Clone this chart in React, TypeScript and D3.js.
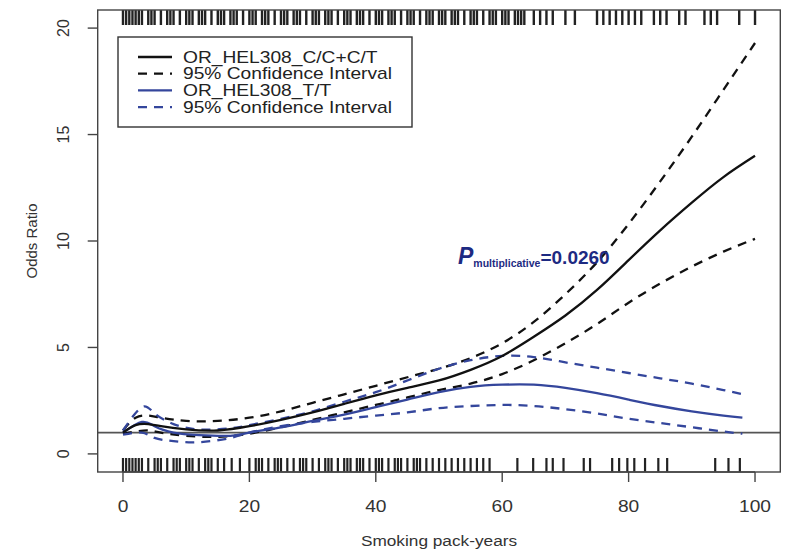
import React from 'react';
import * as d3 from 'd3';

// pack-years grid and fitted odds ratios
const xsBlack = [0, 2, 4, 6, 10, 15, 20, 25, 30, 35, 40, 45, 50, 55, 60, 65, 70, 75, 80, 85, 90, 95, 100];
const orBlack = [1.0, 1.35, 1.4, 1.3, 1.15, 1.1, 1.3, 1.6, 1.95, 2.35, 2.75, 3.1, 3.45, 3.95, 4.6, 5.5, 6.5, 7.7, 9.1, 10.5, 11.8, 13.0, 14.0];
const upBlack = [1.1, 1.7, 1.8, 1.7, 1.55, 1.55, 1.7, 2.0, 2.4, 2.8, 3.2, 3.6, 4.0, 4.5, 5.2, 6.2, 7.5, 9.0, 10.8, 12.8, 14.9, 17.1, 19.3];
const loBlack = [0.95, 1.05, 1.1, 1.0, 0.85, 0.8, 0.95, 1.25, 1.6, 1.95, 2.3, 2.65, 3.0, 3.3, 3.75, 4.4, 5.2, 6.1, 7.1, 8.0, 8.8, 9.5, 10.1];

const xsBlue = [0, 3, 5, 8, 12, 17, 20, 25, 30, 35, 40, 45, 50, 55, 60, 65, 70, 75, 80, 85, 90, 95, 98];
const orBlue = [1.0, 1.5, 1.3, 1.0, 0.88, 0.85, 1.0, 1.25, 1.55, 1.85, 2.2, 2.55, 2.9, 3.15, 3.25, 3.25, 3.1, 2.85, 2.55, 2.25, 2.0, 1.8, 1.7];
const upBlue = [1.1, 2.2, 1.9, 1.4, 1.15, 1.2, 1.35, 1.65, 2.0, 2.45, 2.9, 3.45, 4.0, 4.4, 4.6, 4.55, 4.3, 4.05, 3.8, 3.55, 3.3, 3.0, 2.8];
const loBlue = [0.9, 1.0, 0.75, 0.6, 0.55, 0.75, 1.0, 1.3, 1.5, 1.65, 1.8, 1.95, 2.15, 2.25, 2.3, 2.25, 2.1, 1.9, 1.65, 1.45, 1.25, 1.05, 0.95];

// rug marks (observed pack-years)
const rugTop = [0, 0.5, 1, 1.5, 2, 2.5, 3, 4, 4.5, 5, 6, 7, 7.5, 8, 9, 10, 10.5, 11, 12, 12.5, 13, 14, 15, 15.5, 16, 17, 17.5,
  18, 19, 20, 20.5, 21, 22, 22.5, 23, 24, 25, 25.5, 26, 27, 27.5, 28, 29, 30, 30.5, 31, 32, 32.5, 33, 34, 35, 35.5, 36, 37,
  37.5, 38, 39, 40, 40.5, 41, 42, 42.5, 43, 44, 45, 45.5, 46, 47, 48, 48.5, 49, 50, 50.5, 51, 52, 52.5, 53, 54, 55, 55.5,
  56, 57, 58, 58.5, 59, 60, 60.5, 61, 62, 62.5, 63, 63.5,
  65, 66, 67, 68, 70, 71.5, 75, 76, 77, 78, 79, 80, 81, 82, 84, 85, 86, 88, 89, 92, 93, 94, 97.5, 100];
const rugBottom = [0, 0.5, 1, 1.5, 2, 2.5, 3, 4, 5, 5.5, 6, 7, 8, 8.5, 9, 10, 10.5, 11, 12, 13, 13.5, 14, 15, 16, 17.2, 18.5,
  20, 21, 21.5, 22, 23, 24, 24.5, 25, 26, 27, 28, 28.5, 29, 30, 31, 32, 32.5, 33, 34, 35, 35.5, 36, 37, 37.5, 38, 39, 40,
  40.5, 41, 42, 43, 43.5, 44, 45, 46, 46.5, 47, 48, 49, 50, 51, 52, 53, 54, 55, 56, 57, 58,
  62.4, 64.9, 67, 68, 69.7, 72.9, 73.9, 77.4, 78.5, 79.8, 80.9, 82.6, 84.7, 86.1, 93.7, 95.8, 97.6];

const xTicks = [0, 20, 40, 60, 80, 100];
const yTicks = [0, 5, 10, 15, 20];

const legendItems = [
  { label: 'OR_HEL308_C/C+C/T', color: '#111', dash: null },
  { label: '95% Confidence Interval', color: '#111', dash: '9,7' },
  { label: 'OR_HEL308_T/T', color: '#34469c', dash: null },
  { label: '95% Confidence Interval', color: '#34469c', dash: '9,7' },
];

const W = 792;
const H = 556;
const left = 97.7, right = 780.3, top = 10, bottom = 472;
const font = '"Liberation Sans", Arial, sans-serif';
const axisColor = '#444';
const navy = '#1d2a82';
const textColor = '#333';

export default function App() {
  const x = d3.scaleLinear().domain([-4, 104]).range([left, right]);
  const y = d3.scaleLinear().domain([-0.85, 20.85]).range([bottom, top]);

  const path = (xs: number[], ys: number[]) =>
    d3.line<number>()
      .x((_, i) => x(xs[i]))
      .y(d => y(d))
      .curve(d3.curveNatural)(ys) || '';

  const blue = '#34469c';
  const curves = [
    { d: path(xsBlack, upBlack), color: '#111', dash: '9,7' },
    { d: path(xsBlack, loBlack), color: '#111', dash: '9,7' },
    { d: path(xsBlue, upBlue), color: blue, dash: '9,7' },
    { d: path(xsBlue, loBlue), color: blue, dash: '9,7' },
    { d: path(xsBlue, orBlue), color: blue, dash: null },
    { d: path(xsBlack, orBlack), color: '#111', dash: null },
  ];

  const legX = 118, legY = 37, legW = 294, legH = 90;

  return (
    <svg width={W} height={H} style={{ position: 'absolute', left: 0, top: 0, background: '#fff' }}>
      <rect x={0} y={0} width={W} height={H} fill="#fff" />

      {/* rugs */}
      {rugTop.map((v, i) => (
        <line key={'t' + i} x1={x(v)} x2={x(v)} y1={top} y2={top + 15} stroke="#222" strokeWidth={2.4} />
      ))}
      {rugBottom.map((v, i) => (
        <line key={'b' + i} x1={x(v)} x2={x(v)} y1={bottom - 14} y2={bottom} stroke="#222" strokeWidth={2.2} />
      ))}

      {/* reference line at OR = 1 */}
      <line x1={left} x2={right} y1={y(1)} y2={y(1)} stroke="#555" strokeWidth={1.6} />

      {curves.map((c, i) => (
        <path key={i} d={c.d} fill="none" stroke={c.color} strokeWidth={2.3}
          strokeDasharray={c.dash || undefined} />
      ))}

      {/* plot box */}
      <rect x={left} y={top} width={right - left} height={bottom - top} fill="none" stroke={axisColor} strokeWidth={1.4} />

      {/* x axis */}
      <line x1={x(0)} x2={x(100)} y1={bottom} y2={bottom} stroke={axisColor} strokeWidth={1.4} />
      {xTicks.map(t => (
        <g key={t}>
          <line x1={x(t)} x2={x(t)} y1={bottom} y2={bottom + 10} stroke={axisColor} strokeWidth={1.4} />
          <text transform={`translate(${x(t)},512) scale(1.2,1)`} textAnchor="middle" fontFamily={font} fontSize={16} fill={textColor}>{t}</text>
        </g>
      ))}
      <text transform={`translate(${(left + right) / 2},546) scale(1.15,1)`} textAnchor="middle" fontFamily={font} fontSize={15} fill={textColor}>Smoking pack-years</text>

      {/* y axis */}
      {yTicks.map(t => (
        <g key={t}>
          <line x1={left - 10} x2={left} y1={y(t)} y2={y(t)} stroke={axisColor} strokeWidth={1.4} />
          <text transform={`translate(69,${y(t)}) rotate(-90)`} textAnchor="middle" fontFamily={font} fontSize={16} fill={textColor}>{t}</text>
        </g>
      ))}
      <text transform={`translate(37,${(top + bottom) / 2}) rotate(-90)`} textAnchor="middle" fontFamily={font} fontSize={15} fill={textColor}>Odds Ratio</text>

      {/* legend */}
      <rect x={legX} y={legY} width={legW} height={legH} fill="#fff" stroke="#333" strokeWidth={1.4} />
      {legendItems.map((it, i) => {
        const cy = legY + 20 + i * 16.7;
        return (
          <g key={i}>
            <line x1={legX + 20} x2={legX + 54} y1={cy} y2={cy} stroke={it.color} strokeWidth={2.3}
              strokeDasharray={it.dash || undefined} />
            <text transform={`translate(${legX + 65},${cy + 5.5}) scale(1.2,1)`} fontFamily={font} fontSize={16} fill="#222">{it.label}</text>
          </g>
        );
      })}

      {/* interaction p-value */}
      <text x={458} y={264} fontFamily={font} fill={navy} fontWeight="bold">
        <tspan fontSize={23} fontStyle="italic">P</tspan>
        <tspan fontSize={10.5} dy={3}>multiplicative</tspan>
        <tspan fontSize={19} dy={-3}>=0.0260</tspan>
      </text>
    </svg>
  );
}
